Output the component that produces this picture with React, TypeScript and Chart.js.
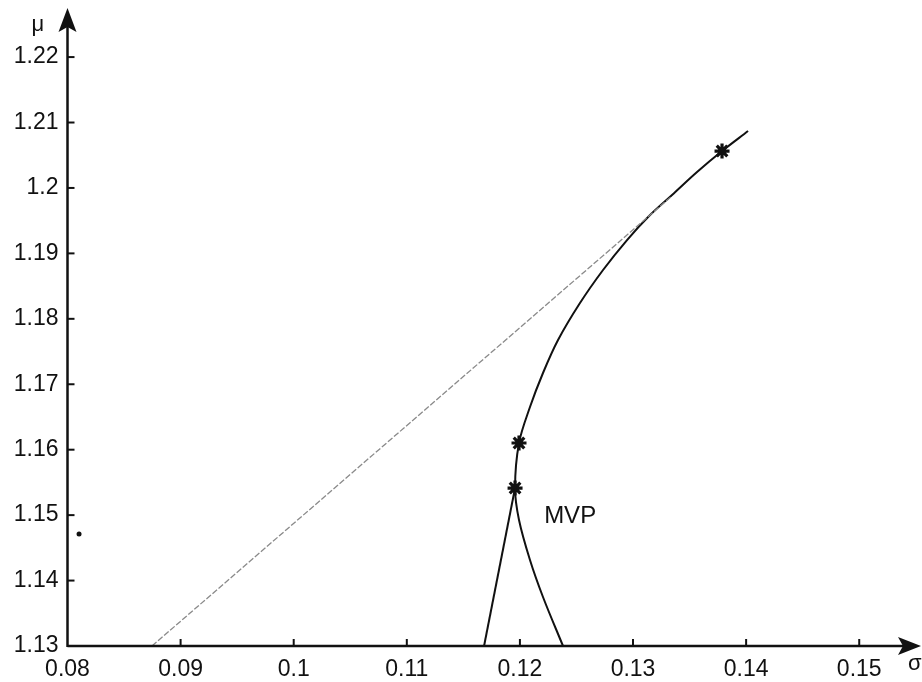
import React, { useEffect, useRef } from "react";
import { Chart, registerables } from "chart.js";

Chart.register(...registerables);

// Efficient frontier (upper part down through the MVP, then lower right branch)
const frontierSigma = [0.14017, 0.13787, 0.13566, 0.13345, 0.13142, 0.12947, 0.12735, 0.12531, 0.12337, 0.12204, 0.12089, 0.11992, 0.11957, 0.11992, 0.12089, 0.12204, 0.12381];
const frontierMu = [1.2087, 1.20564, 1.20243, 1.19892, 1.19571, 1.19204, 1.18746, 1.18241, 1.17676, 1.17172, 1.16652, 1.16102, 1.15414, 1.14925, 1.14314, 1.13749, 1.13];

// Left branch from the MVP down to the axis
const branchSigma = [0.11957, 0.11683];
const branchMu = [1.15414, 1.13];

// Tangent (capital market) line
const tangentSigma = [0.08747, 0.13345];
const tangentMu = [1.13, 1.19877];

// Marked portfolios (stars)
const starSigma = [0.13787, 0.11992, 0.11957];
const starMu = [1.20564, 1.16102, 1.15414];

// Isolated dot near the μ axis
const dotSigma = [0.08102];
const dotMu = [1.14711];

// MVP label position
const mvpSigma = 0.12444;
const mvpMu = 1.14987;

const xTickValues = [0.08, 0.09, 0.1, 0.11, 0.12, 0.13, 0.14, 0.15];
const xTickLabels = ["0.08", "0.09", "0.1", "0.11", "0.12", "0.13", "0.14", "0.15"];
const yTickValues = [1.13, 1.14, 1.15, 1.16, 1.17, 1.18, 1.19, 1.2, 1.21, 1.22];
const yTickLabels = ["1.13", "1.14", "1.15", "1.16", "1.17", "1.18", "1.19", "1.2", "1.21", "1.22"];

const X_MIN = 0.08;
const X_MAX = 0.15555;
const Y_MIN = 1.13;
const Y_MAX = 1.2275;

const FONT = "'Liberation Sans', Arial, Helvetica, sans-serif";
const INK = "#111111";

const toPts = (xs: number[], ys: number[]) => xs.map((x, i) => ({ x, y: ys[i] }));

const axesPlugin = {
  id: "arrowAxes",
  afterDraw(chart: any) {
    const ctx = chart.ctx as CanvasRenderingContext2D;
    const { left, top, right, bottom } = chart.chartArea;
    const xs = chart.scales.x;
    const ys = chart.scales.y;
    ctx.save();
    ctx.strokeStyle = INK;
    ctx.fillStyle = INK;
    ctx.lineWidth = 2.5;
    ctx.lineCap = "butt";

    // y axis
    ctx.beginPath();
    ctx.moveTo(left, bottom + 1);
    ctx.lineTo(left, top + 18);
    ctx.stroke();
    ctx.beginPath();
    ctx.moveTo(left, top);
    ctx.lineTo(left - 9, top + 24);
    ctx.lineTo(left, top + 19);
    ctx.lineTo(left + 9, top + 24);
    ctx.closePath();
    ctx.fill();

    // x axis
    ctx.beginPath();
    ctx.moveTo(left, bottom);
    ctx.lineTo(right - 18, bottom);
    ctx.stroke();
    ctx.beginPath();
    ctx.moveTo(right - 1, bottom);
    ctx.lineTo(right - 24, bottom - 9);
    ctx.lineTo(right - 19, bottom);
    ctx.lineTo(right - 24, bottom + 9);
    ctx.closePath();
    ctx.fill();

    // inward ticks
    ctx.lineWidth = 2;
    xs.ticks.forEach((t: any) => {
      if (t.value <= X_MIN) return;
      const px = xs.getPixelForValue(t.value);
      ctx.beginPath();
      ctx.moveTo(px, bottom);
      ctx.lineTo(px, bottom - 7);
      ctx.stroke();
    });
    ys.ticks.forEach((t: any) => {
      if (t.value <= Y_MIN) return;
      const py = ys.getPixelForValue(t.value);
      ctx.beginPath();
      ctx.moveTo(left, py);
      ctx.lineTo(left + 7, py);
      ctx.stroke();
    });

    // axis symbols
    ctx.font = `22px ${FONT}`;
    ctx.textBaseline = "alphabetic";
    ctx.textAlign = "left";
    ctx.fillText("μ", left - 36, top + 23);
    ctx.fillText("σ", right - 14, bottom + 24);

    // MVP label
    ctx.font = `24px ${FONT}`;
    ctx.textAlign = "center";
    ctx.textBaseline = "middle";
    ctx.fillText("MVP", xs.getPixelForValue(mvpSigma), ys.getPixelForValue(mvpMu));
    ctx.restore();
  },
};

export default function App() {
  const ref = useRef<HTMLCanvasElement | null>(null);

  useEffect(() => {
    if (!ref.current) return;
    const chart = new Chart(ref.current, {
      type: "scatter",
      data: {
        datasets: [
          {
            data: toPts(tangentSigma, tangentMu),
            showLine: true,
            borderColor: "#8a8a8a",
            borderWidth: 1.3,
            borderDash: [6, 2],
            pointRadius: 0,
          },
          {
            data: toPts(frontierSigma, frontierMu),
            showLine: true,
            borderColor: INK,
            borderWidth: 2,
            tension: 0.35,
            pointRadius: 0,
          },
          {
            data: toPts(branchSigma, branchMu),
            showLine: true,
            borderColor: INK,
            borderWidth: 2,
            pointRadius: 0,
          },
          {
            data: toPts(starSigma, starMu),
            showLine: false,
            pointStyle: "star",
            pointRadius: 7.5,
            borderWidth: 3.2,
            borderColor: INK,
            backgroundColor: INK,
          },
          {
            data: toPts(dotSigma, dotMu),
            showLine: false,
            pointStyle: "circle",
            pointRadius: 2.5,
            borderWidth: 0,
            backgroundColor: INK,
          },
        ],
      },
      options: {
        animation: false,
        responsive: false,
        devicePixelRatio: 1,
        layout: { autoPadding: false, padding: { top: 8, right: 0, left: 0, bottom: 0 } },
        plugins: {
          legend: { display: false },
          tooltip: { enabled: false },
          title: { display: false },
        },
        scales: {
          x: {
            type: "linear",
            position: "bottom",
            min: X_MIN,
            max: X_MAX,
            grid: { display: false, drawTicks: false, tickLength: 0 },
            border: { display: false },
            ticks: {
              color: INK,
              font: { family: FONT, size: 23 },
              padding: 10,
              maxRotation: 0,
              autoSkip: false,
              callback: (v: any) => {
                const i = xTickValues.findIndex((t) => Math.abs(t - v) < 1e-9);
                return i >= 0 ? xTickLabels[i] : "";
              },
            },
            afterBuildTicks: (s: any) => {
              s.ticks = xTickValues.map((value) => ({ value }));
            },
            afterFit: (s: any) => {
              s.height = 36;
              s.paddingLeft = 0;
              s.paddingRight = 0;
            },
          },
          y: {
            type: "linear",
            min: Y_MIN,
            max: Y_MAX,
            grid: { display: false, drawTicks: false, tickLength: 0 },
            border: { display: false },
            ticks: {
              color: INK,
              font: { family: FONT, size: 23 },
              padding: 9,
              autoSkip: false,
              callback: (v: any) => {
                const i = yTickValues.findIndex((t) => Math.abs(t - v) < 1e-9);
                return i >= 0 ? yTickLabels[i] : "";
              },
            },
            afterBuildTicks: (s: any) => {
              s.ticks = yTickValues.map((value) => ({ value }));
            },
            afterFit: (s: any) => {
              s.width = 67.5;
              s.paddingTop = 0;
              s.paddingBottom = 0;
            },
          },
        },
      },
      plugins: [axesPlugin],
    });
    return () => chart.destroy();
  }, []);

  return (
    <div style={{ position: "absolute", left: 0, top: 0, width: 922, height: 682, background: "#fff" }}>
      <canvas ref={ref} width={922} height={682} style={{ display: "block" }} />
    </div>
  );
}
